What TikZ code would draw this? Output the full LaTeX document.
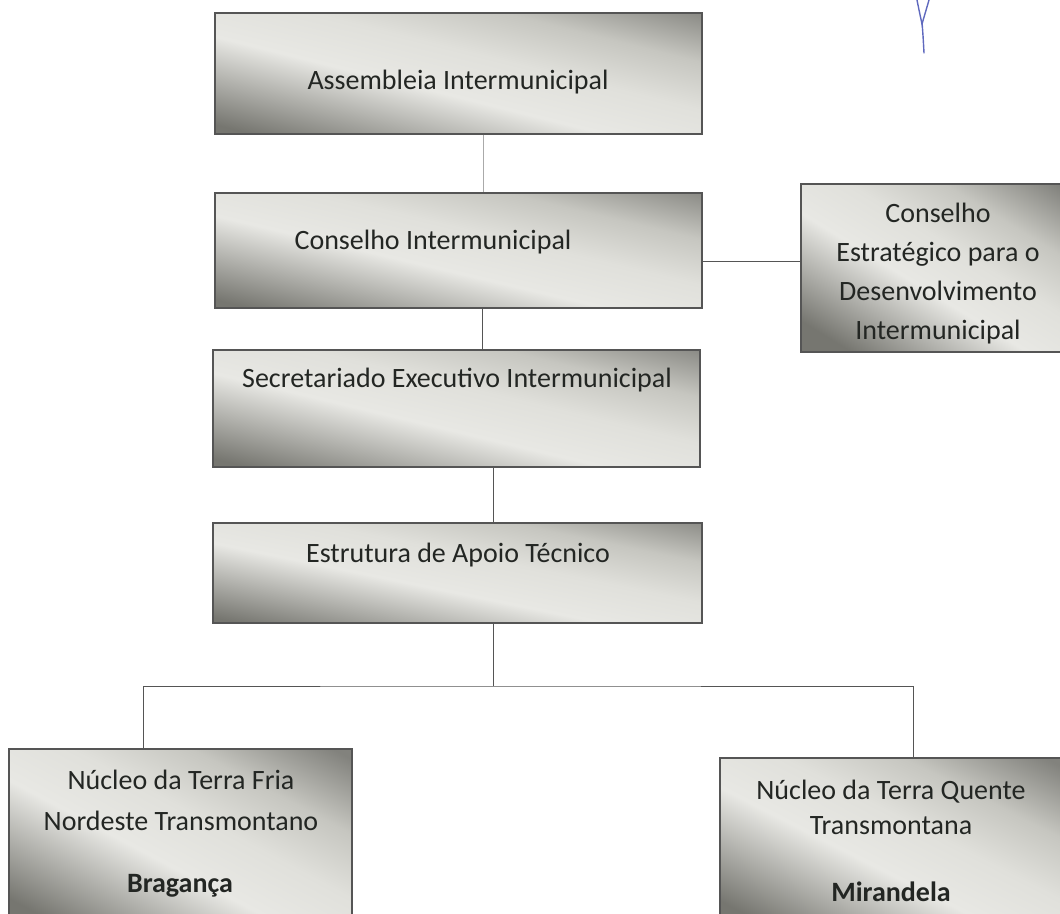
\documentclass[tikz,border=0pt]{standalone}
\usepackage{fontspec}
\setmainfont{Carlito}
\usetikzlibrary{calc}
\definecolor{mdark}{RGB}{118,118,112}
\definecolor{mlight}{RGB}{232,232,228}
\definecolor{mlight2}{RGB}{224,224,219}
\definecolor{mmid}{RGB}{198,198,192}
\definecolor{mtr}{RGB}{130,130,125}
\definecolor{txt}{RGB}{35,38,35}
\definecolor{edge}{RGB}{85,85,85}
\definecolor{ink}{RGB}{95,105,190}
\pgfdeclarehorizontalshading{metal}{100bp}{color(0bp)=(mdark); color(22bp)=(mdark); color(44bp)=(mlight); color(56bp)=(mlight2); color(68bp)=(mmid); color(82bp)=(mtr); color(100bp)=(mtr)}
\begin{document}
\begin{tikzpicture}[x=1pt,y=1pt,
  box/.style={draw=edge, line width=1.3pt, shading=metal, shading angle=#1, inner sep=0pt},
  lbl/.style={font=\fontsize{28}{39}\selectfont, text=txt, align=center, inner sep=0pt},
  link/.style={draw=edge, line width=0.9pt}]
\useasboundingbox (0,-913) rectangle (1060,0);

% boxes
\node[box=76, minimum width=487pt, minimum height=121pt] (b1) at (458.5,-73.5) {};
\node[box=76.7, minimum width=487pt, minimum height=115pt] (b2) at (458.5,-250.5) {};
\node[box=58.5, minimum width=274pt, minimum height=168pt] (b3) at (938,-268) {};
\node[box=76.5, minimum width=487pt, minimum height=117pt] (b4) at (456.5,-408.5) {};
\node[box=78.4, minimum width=489pt, minimum height=100pt] (b5) at (457.5,-573) {};
\node[box=62, minimum width=343pt, minimum height=181pt] (b6) at (180.5,-839.5) {};
\node[box=63, minimum width=342pt, minimum height=172pt] (b7) at (891,-844) {};

% connectors
\draw[link, draw=edge!50] ([xshift=24.5pt]b1.south) -- ([xshift=24.5pt]b1.south |- b2.north);
\draw[link] ([yshift=-10.5pt]b2.east) -- ([yshift=-10.5pt]b2.east -| b3.west);
\draw[link] ([xshift=23.5pt]b2.south) -- ([xshift=23.5pt]b2.south |- b4.north);
\draw[link] ([xshift=36.5pt]b4.south) -- ([xshift=36.5pt]b4.south |- b5.north);
\coordinate (j) at (493,-686);
\draw[link] ([xshift=35.5pt]b5.south) -- (j);
\draw[link] ([xshift=-37.5pt]b6.north) |- (j) -| ([xshift=22pt]b7.north);

% labels
\node[lbl] (t1) at (458,-82) {Assembleia Intermunicipal};
\node[lbl] (t2) at (433,-242) {Conselho Intermunicipal};
\node[lbl] (t3) at (938,-274) {Conselho\\Estratégico para o\\Desenvolvimento\\Intermunicipal};
\node[lbl] (t4) at (457,-380) {Secretariado Executivo Intermunicipal};
\node[lbl] (t5) at (458,-555) {Estrutura de Apoio Técnico};
\node[lbl, font=\fontsize{28}{41}\selectfont] (t6) at (181,-800) {Núcleo da Terra Fria\\Nordeste Transmontano};
\node[lbl] (t6b) at (180,-886) {\textbf{Bragança}};
\node[lbl, font=\fontsize{28}{35}\selectfont] (t7) at (891,-807) {Núcleo da Terra Quente\\Transmontana};
\node[lbl] (t7b) at (891,-892) {\textbf{Mirandela}};

% pen mark
\draw[ink, line width=1.4pt, line cap=round] (917,0) .. controls (919,-10) .. (922,-24) -- (929,0);
\draw[ink, line width=1.4pt, line cap=round] (922,-22) .. controls (923,-35) .. (924,-53);
\end{tikzpicture}
\end{document}
